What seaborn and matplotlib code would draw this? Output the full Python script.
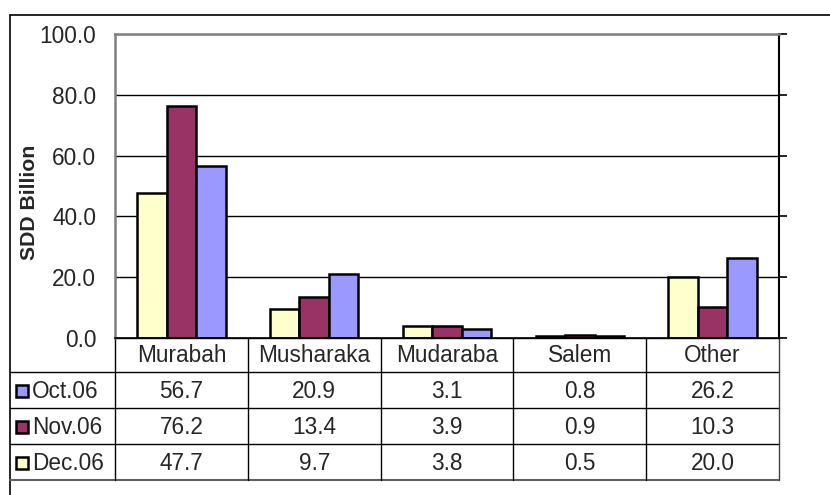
import matplotlib
matplotlib.use("Agg")
import matplotlib.pyplot as plt
import seaborn as sns
import pandas as pd
from matplotlib.patches import Rectangle

categories = ["Murabah", "Musharaka", "Mudaraba", "Salem", "Other"]
series_names = ["Oct.06", "Nov.06", "Dec.06"]
oct06 = [56.7, 20.9, 3.1, 0.8, 26.2]
nov06 = [76.2, 13.4, 3.9, 0.9, 10.3]
dec06 = [47.7, 9.7, 3.8, 0.5, 20.0]
y_label = "SDD Billion"

colors = {"Oct.06": "#9999FF", "Nov.06": "#993366", "Dec.06": "#FFFFCC"}
values = {"Oct.06": oct06, "Nov.06": nov06, "Dec.06": dec06}

rows = []
for s in series_names:
    for c, v in zip(categories, values[s]):
        rows.append({"cat": c, "series": s, "val": v})
df = pd.DataFrame(rows)

sns.set_style("white")
plt.rcParams["font.family"] = ["Liberation Sans", "DejaVu Sans"]

FS = 16.3
W, H = 830, 495
fig = plt.figure(figsize=(W / 100, H / 100), dpi=100)

# plot area in pixel layout
L, R, T, B = 115, 779, 34, 338
ax = fig.add_axes([L / W, 1 - B / H, (R - L) / W, (B - T) / H])

hue_order = ["Dec.06", "Nov.06", "Oct.06"]
sns.barplot(data=df, x="cat", y="val", hue="series", hue_order=hue_order,
            order=categories, palette=colors, saturation=1, width=0.667, gap=0,
            edgecolor="black", linewidth=1.8, ax=ax, legend=False, zorder=3)

ax.set_ylim(0, 100)
ax.set_xlim(-0.5, len(categories) - 0.5)
ticks = [0, 20, 40, 60, 80, 100]
ax.set_yticks(ticks)
ax.set_yticklabels([f"{t:.1f}" for t in ticks], fontsize=FS)
ax.yaxis.grid(True, color="black", linewidth=1.0, zorder=0)
ax.set_axisbelow(True)
ax.set_xticks([])
ax.set_xlabel("")
ax.tick_params(axis="y", left=False, right=True, labelleft=True, labelright=False,
               direction="out", length=5.5, width=1.2, color="black", pad=8)
ax.set_ylabel(y_label, fontsize=15.3, fontweight="bold")
ax.yaxis.set_label_coords(-0.115, 0.447)
for side in ["top", "left"]:
    ax.spines[side].set_color("#808080")
    ax.spines[side].set_linewidth(1.8)
ax.spines["right"].set_color("black")
ax.spines["right"].set_linewidth(1.5)
ax.spines["bottom"].set_color("black")
ax.spines["bottom"].set_linewidth(1.2)
ax.spines["bottom"].set_zorder(5)

# overlay for table and border
ov = fig.add_axes([0, 0, 1, 1], zorder=-1)
ov.set_xlim(0, W)
ov.set_ylim(H, 0)
ov.axis("off")

lc = "black"
# outer border
ov.plot([10, W + 5], [15, 15], color=lc, lw=1.2)
ov.plot([10, 10], [15, H + 5], color=lc, lw=1.2)

row_h = 36
hdr_top, hdr_bot = 338, 372
row_tops = [372, 408, 444]
table_bot = 480
ncat = len(categories)
colw = (R - L) / ncat
# horizontal lines
ov.plot([L, R], [hdr_top, hdr_top], color=lc, lw=1.0)
for y in row_tops:
    ov.plot([10, R], [y, y], color=lc, lw=1.0)
ov.plot([10, R], [table_bot, table_bot], color="#606060", lw=1.5)
# vertical lines
for i in range(ncat + 1):
    x = L + i * colw
    ov.plot([x, x], [hdr_top, table_bot], color=lc if i < ncat else "#404040", lw=1.0)

# header text
for i, c in enumerate(categories):
    ov.text(L + (i + 0.5) * colw, (hdr_top + hdr_bot) / 2 + 1, c,
            ha="center", va="center", fontsize=FS)

# data rows
for r, s in enumerate(series_names):
    yc = row_tops[r] + row_h / 2 + 1
    ov.add_patch(Rectangle((16, yc - 6), 12, 12, facecolor=colors[s],
                           edgecolor="black", lw=1.8))
    ov.text(32, yc, s, ha="left", va="center", fontsize=FS)
    for i, v in enumerate(values[s]):
        ov.text(L + (i + 0.5) * colw, yc, f"{v:.1f}", ha="center", va="center",
                fontsize=FS)

fig.savefig("out.png", dpi=100)
